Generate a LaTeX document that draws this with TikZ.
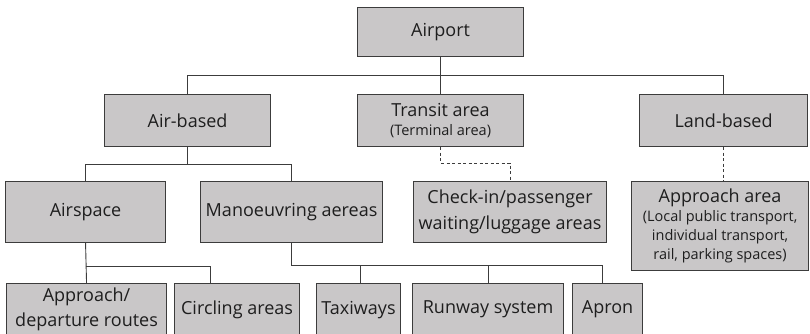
\documentclass[tikz,border=0pt]{standalone}
\usepackage{fontspec}
\setmainfont{Open Sans}
\definecolor{boxfill}{HTML}{C9C7C8}
\definecolor{boxline}{HTML}{3C3C3C}
\definecolor{txt}{HTML}{1E1E1E}
\newcommand{\subtxt}{\fontsize{14.5}{19}\selectfont}
\begin{document}
\begin{tikzpicture}[x=1pt,y=-1pt,
  box/.style={draw=boxline, fill=boxfill, line width=1.1pt, anchor=north west,
    inner sep=0pt, align=center, text=txt, font=\fontsize{18}{25.5}\selectfont},
  conn/.style={draw=boxline, line width=0.9pt},
  dconn/.style={draw=boxline, line width=0.9pt, dash pattern=on 3pt off 2.5pt}]
\useasboundingbox (0,0) rectangle (810,333);
\clip (0,0) rectangle (810,333);
% level 0
\node[box, minimum width=166pt, minimum height=49pt] (airport) at (357,7) {Airport};
% level 1
\node[box, minimum width=166pt, minimum height=52pt] (air) at (104,94) {Air-based};
\node[box, minimum width=166pt, minimum height=52pt] (transit) at (357,94) {Transit area\\[-6.5pt]\subtxt (Terminal area)};
\node[box, minimum width=168pt, minimum height=52pt] (land) at (639,94) {Land-based};
% level 2
\node[box, minimum width=160pt, minimum height=61pt] (airspace) at (5,181) {Airspace};
\node[box, minimum width=182pt, minimum height=61pt] (manoeuv) at (200,181) {Manoeuvring aereas};
\node[box, minimum width=193pt, minimum height=61pt] (checkin) at (413,181) {Check-in/passenger\\waiting/luggage areas};
\node[box, minimum width=177pt, minimum height=89pt] (apparea) at (631,181) {Approach area\\[-6.5pt]\subtxt (Local public transport,\\[-6.5pt]\subtxt individual transport,\\[-6.5pt]\subtxt rail, parking spaces)};
% level 3
\node[box, minimum width=160pt, minimum height=52pt] (appdep) at (6,283) {Approach/\\departure routes};
\node[box, minimum width=125pt, minimum height=52pt] (circling) at (174,283) {Circling areas};
\node[box, minimum width=84pt, minimum height=52pt] (taxi) at (316,283) {Taxiways};
\node[box, minimum width=151pt, minimum height=52pt] (runway) at (412,283) {Runway system};
\node[box, minimum width=70pt, minimum height=52pt] (apron) at (572,283) {Apron};
% connectors level 0-1
\draw[conn] (airport.south) -- (transit.north);
\draw[conn] (air.north) |- (land.north |- 0,75) -- (land.north);
% air-based children
\draw[conn] (air.south) -- (air.south |- 0,164);
\draw[conn] (airspace.north) |- (manoeuv.north |- 0,164) -- (manoeuv.north);
% airspace children
\coordinate (circtop) at (210,283);
\draw[conn] (airspace.south) -- (appdep.north);
\draw[conn] (airspace.south |- 0,266) -| (circtop);
% manoeuvring children
\coordinate (taxitop) at (360,283);
\coordinate (aprontop) at (602,283);
\draw[conn] (manoeuv.south) |- (aprontop |- 0,265) -- (aprontop);
\draw[conn] (taxitop |- 0,265) -- (taxitop);
\draw[conn] (runway.north |- 0,265) -- (runway.north);
% dashed
\draw[dconn] (transit.south) |- (checkin.north |- 0,163) -- (checkin.north);
\draw[dconn] (land.south) -- (land.south |- apparea.north);
\end{tikzpicture}
\end{document}
